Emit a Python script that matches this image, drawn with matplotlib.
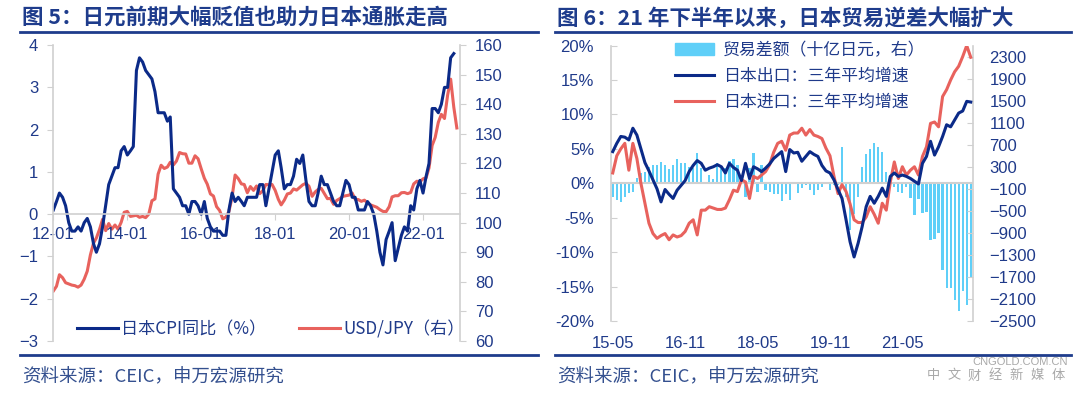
import matplotlib
matplotlib.use("Agg")
import matplotlib.pyplot as plt
from matplotlib.lines import Line2D
from matplotlib.patches import Patch
import numpy as np
import pandas as pd

plt.rcParams["font.family"] = ["Noto Sans CJK SC", "DejaVu Sans"]

# ---- 图5: CPI vs USD/JPY, monthly 2012-01 .. 2022-12
cpi_yoy = [
    0.1, 0.3, 0.5, 0.4, 0.2, -0.2, -0.4, -0.4, -0.3, -0.4, -0.2, -0.1,
    -0.3, -0.7, -0.9, -0.7, -0.3, 0.2, 0.7, 0.9, 1.1, 1.1, 1.5, 1.6,
    1.4, 1.5, 1.6, 3.4, 3.7, 3.6, 3.4, 3.3, 3.2, 2.9, 2.4, 2.4,
    2.4, 2.2, 2.3, 0.6, 0.5, 0.4, 0.2, 0.2, 0.0, 0.3, 0.3, 0.2,
    0.0, 0.3, -0.1, -0.3, -0.4, -0.4, -0.4, -0.5, -0.5, 0.1, 0.5, 0.3,
    0.4, 0.3, 0.2, 0.4, 0.4, 0.4, 0.4, 0.7, 0.7, 0.2, 0.6, 1.0,
    1.4, 1.5, 1.1, 0.6, 0.7, 0.7, 0.9, 1.3, 1.2, 1.4, 0.8, 0.3,
    0.2, 0.2, 0.5, 0.9, 0.7, 0.7, 0.5, 0.3, 0.2, 0.2, 0.5, 0.8,
    0.7, 0.4, 0.4, 0.1, 0.1, 0.1, 0.3, 0.2, 0.0, -0.4, -0.9, -1.2,
    -0.6, -0.4, -0.2, -1.1, -0.8, -0.5, -0.3, -0.4, 0.2, 0.1, 0.6, 0.8,
    0.5, 0.9, 1.2, 2.5, 2.5, 2.4, 2.6, 3.0, 3.0, 3.7, 3.8,
]
usd_jpy = [
    76.9, 78.5, 82.4, 81.4, 79.7, 79.3, 78.9, 78.7, 78.2, 78.9, 80.9, 83.6,
    89.1, 93.1, 94.8, 97.7, 101.1, 97.3, 99.7, 97.8, 99.2, 97.8, 100.1, 103.5,
    103.8, 102.1, 102.3, 102.5, 101.8, 102.1, 101.7, 102.9, 107.4, 108.0, 116.4, 119.4,
    118.3, 118.8, 120.4, 119.5, 120.8, 123.7, 123.3, 123.2, 120.1, 120.1, 122.6, 121.6,
    118.2, 115.0, 113.0, 109.7, 109.0, 105.4, 104.1, 101.3, 101.9, 103.8, 108.6, 116.1,
    114.9, 113.1, 112.9, 110.1, 112.2, 110.9, 112.4, 109.8, 110.8, 112.9, 112.8, 112.9,
    110.9, 107.9, 106.0, 107.6, 109.7, 110.0, 111.4, 111.0, 111.9, 112.8, 113.3, 112.3,
    108.9, 110.4, 111.2, 111.6, 109.9, 108.1, 108.2, 106.2, 107.5, 108.1, 108.9, 109.1,
    109.3, 110.0, 107.9, 107.8, 107.2, 107.6, 106.7, 106.0, 105.6, 105.2, 104.4, 103.8,
    103.7, 105.4, 108.7, 109.1, 109.1, 110.1, 110.2, 109.8, 110.2, 113.1, 114.0, 113.8,
    114.8, 115.2, 118.5, 126.1, 128.8, 133.9, 136.6, 135.2, 143.1, 148.5, 139.0, 132.0,
]
left_ticks = ["12-01", "14-01", "16-01", "18-01", "20-01", "22-01"]

# ---- 图6: trade, monthly 2015-05 .. 2022-10
export_3y = [
    4.6, 5.8, 6.8, 6.7, 6.3, 8.0, 7.0, 5.0, 3.0, 1.8,
    0.5, -0.8, -2.7, -0.9, -1.6, -2.2, -1.0, -0.3, 0.4, 1.7,
    2.6, 3.3, 2.9, 1.9, 2.2, 2.4, 2.7, 2.4, 1.5, 2.9,
    2.3, 1.9, 0.4, 2.9, 0.7, 2.4, 2.1, 1.7, 2.2, 2.8,
    3.6, 4.1, 4.6, 1.7, 4.9, 4.4, 4.5, 3.2, 3.9, 4.6,
    4.2, 3.9, 2.6, 1.8, 1.5, 0.5, -0.9, -2.2, -5.3, -8.5,
    -10.7, -8.7, -6.3, -3.4, -1.9, -2.9, -1.9, -0.7, -1.9, 1.0,
    1.5, 1.0, 1.2, 1.0, 0.7, 0.3, -0.1, 2.9, 3.9, 6.1,
    4.1, 5.3, 6.8, 8.5, 8.2, 9.2, 10.2, 10.5, 11.9, 11.8,
]
import_3y = [
    1.5, 4.0, 5.0, 5.8, 1.9, 5.8, 3.6, 0.0, -2.9, -5.8,
    -7.3, -8.0, -7.6, -7.3, -8.2, -7.5, -7.8, -7.6, -7.0, -5.8,
    -5.3, -7.5, -3.9, -3.9, -3.4, -3.6, -3.8, -3.8, -3.6, -2.4,
    -1.0, -1.2, 0.5, 0.2, -2.2, 1.0, 0.7, 1.2, 1.7, 2.7,
    4.5, 5.8, 6.1, 4.8, 7.0, 7.3, 7.3, 8.0, 7.0, 7.8,
    7.0, 6.8, 6.5, 5.1, 4.0, 1.0, -1.5, -0.2, -1.2, -3.0,
    -5.3, -5.7, -5.7, -4.9, -3.4, -4.5, -5.8, -2.9, -3.9, 0.2,
    3.1, 0.7, 2.4, 1.2, 1.9, 2.4, 1.2, 3.9, 5.3, 8.7,
    8.9, 8.2, 12.6, 13.6, 15.0, 16.2, 17.0, 18.4, 20.0, 18.3,
]
trade_balance = [
    -254, -303, -333, -254, -181, -152, 91, 181, 210, 301,
    332, 332, 391, 332, 254, 332, 435, 362, 373, 301,
    272, 554, 272, -20, 150, 80, 362, 301, 272, 409,
    435, 332, 120, -243, 272, 554, -152, 332, -121, -152,
    -200, -200, -330, -200, -300, 30, -181, -91, -30, -121,
    -212, -121, -60, 30, -121, -30, -40, 663, -240, -850,
    -560, -250, 300, 540, 620, 730, 650, 560, 200, -30,
    -60, -150, -181, -60, -272, -574, -290, -543, -525, -1027,
    -1015, -900, -1570, -1902, -1902, -2114, -2326, -1960, -2205, -1721,
]
right_ticks = ["15-05", "16-11", "18-05", "19-11", "21-05"]

navy = "#0B2A88"
red = "#E8625D"
cyan = "#5FCFF8"
txt = "#1F3A8A"
grey = "#D0D0D0"
num_font = "Liberation Sans"

fig = plt.figure(figsize=(10.8, 3.94), dpi=100)

# titles, rules, sources
for x0, x1, title in [
    (20, 538, "图 5：日元前期大幅贬值也助力日本通胀走高"),
    (555, 1071, "图 6：21 年下半年以来，日本贸易逆差大幅扩大"),
]:
    fig.text(x0 / 1080 + 0.002, 1 - 18 / 394, title, fontsize=15.5,
             fontweight="bold", color="#1E3C8C", va="center")
    for y in (32, 355):
        fig.add_artist(Line2D([x0 / 1080, x1 / 1080], [1 - y / 394] * 2,
                              color="#1E3C8C", lw=2))
    fig.text(x0 / 1080 + 0.002, 1 - 377 / 394, "资料来源：CEIC，申万宏源研究",
             fontsize=13.3, color="#34508F", va="center")

# watermark text
fig.text(1020 / 1080, 1 - 362 / 394, "CNGOLD.COM.CN", fontsize=8,
         color="#A8A8A8", ha="center", va="center", family=num_font)
for ch, xp in zip("中文财经新媒体", np.linspace(933, 1058, 7)):
    fig.text(xp / 1080, 1 - 376 / 394, ch, fontsize=9.5, color="#A8A8A8",
             ha="center", va="center")

# ---------- left chart
dates = pd.date_range("2012-01-01", periods=len(usd_jpy), freq="MS")
ax1 = fig.add_axes([0.0494, 0.1345, 0.3765, 0.751])
ax1r = ax1.twinx()
ax1r.plot(dates, usd_jpy, color=red, lw=2.2)
ax1.plot(dates[:len(cpi_yoy)], cpi_yoy, color=navy, lw=2.2)
ax1.set_zorder(ax1r.get_zorder() + 1)
ax1.patch.set_visible(False)

ax1.set_xlim(pd.Timestamp("2012-01-01"), pd.Timestamp("2023-01-01"))
ax1.set_ylim(-3, 4)
ax1.set_yticks(range(-3, 5))
ax1r.set_ylim(60, 160)
ax1r.set_yticks(range(60, 161, 10))
ax1.set_xticks(pd.date_range("2012-01-01", "2022-01-01", freq="24MS"))
ax1.set_xticklabels(left_ticks)

ax1.spines["bottom"].set_position(("data", 0))
for s in ["top", "right"]:
    ax1.spines[s].set_visible(False)
for s in ["top", "bottom", "left"]:
    ax1r.spines[s].set_visible(False)
for s in [ax1.spines["bottom"], ax1.spines["left"], ax1r.spines["right"]]:
    s.set_color(grey)
    s.set_linewidth(1.2)

ax1.tick_params(axis="x", length=4, color=grey, labelcolor=txt, labelsize=12, pad=5)
ax1.tick_params(axis="y", length=4, color=grey, labelcolor=txt, labelsize=12, pad=7)
ax1r.tick_params(axis="y", length=4, color=grey, labelcolor=txt, labelsize=12, pad=7)
for lab in ax1.get_xticklabels() + ax1.get_yticklabels() + ax1r.get_yticklabels():
    lab.set_family(num_font)

ax1.legend([Line2D([], [], color=navy, lw=2.2), Line2D([], [], color=red, lw=2.2)],
           ["日本CPI同比（%）", "USD/JPY（右）"], loc="lower left",
           bbox_to_anchor=(0.058, 0.01), ncol=2, frameon=False, fontsize=12.3,
           handlelength=2.4, handletextpad=0.2, columnspacing=1.9,
           borderpad=0, borderaxespad=0, labelcolor=txt)

# ---------- right chart
idx = np.arange(len(trade_balance))
ax2 = fig.add_axes([0.5655, 0.1853, 0.3352, 0.699])
ax2b = ax2.twinx()
ax2b.bar(idx, trade_balance, width=0.55, color=cyan)
ax2.axhline(0, color=grey, lw=1.5, zorder=1)
ax2.plot(idx, import_3y, color=red, lw=2.2, zorder=3)
ax2.plot(idx, export_3y, color=navy, lw=2.2, zorder=4)
ax2.set_zorder(ax2b.get_zorder() + 1)
ax2.patch.set_visible(False)

ax2.set_xlim(-0.5, len(idx) - 0.5)
ax2.set_ylim(-20, 20)
ax2.set_yticks(range(-20, 21, 5))
ax2.set_yticklabels([f"{v}%" for v in range(-20, 21, 5)])
ax2b.set_ylim(-2500, 2500)
ax2b.set_yticks(range(-2500, 2301, 400))
ax2.set_xticks(idx[::18])
ax2.set_xticklabels(right_ticks)

for s in ["top", "right", "bottom"]:
    ax2.spines[s].set_visible(False)
for s in ["top", "left", "bottom"]:
    ax2b.spines[s].set_visible(False)
for s in [ax2.spines["left"], ax2b.spines["right"]]:
    s.set_color(grey)
    s.set_linewidth(1.2)

ax2.tick_params(axis="x", length=0, labelcolor=txt, labelsize=12, pad=11)
ax2.tick_params(axis="y", direction="in", length=4, color=grey, labelcolor=txt,
                labelsize=12, pad=12)
ax2b.tick_params(axis="y", direction="in", length=4, color=grey, labelcolor=txt,
                 labelsize=12, pad=12)
for lab in ax2.get_xticklabels() + ax2.get_yticklabels() + ax2b.get_yticklabels():
    lab.set_family(num_font)

ax2.legend([Patch(color=cyan), Line2D([], [], color=navy, lw=2.2),
            Line2D([], [], color=red, lw=2.2)],
           ["贸易差额（十亿日元，右）", "日本出口：三年平均增速", "日本进口：三年平均增速"],
           loc="upper left", bbox_to_anchor=(0.178, 1.017), frameon=False,
           fontsize=12.2, handlelength=2.3, handletextpad=0.5, labelspacing=0.48,
           borderpad=0, borderaxespad=0, labelcolor=txt)

plt.savefig("out.png", dpi=100)
